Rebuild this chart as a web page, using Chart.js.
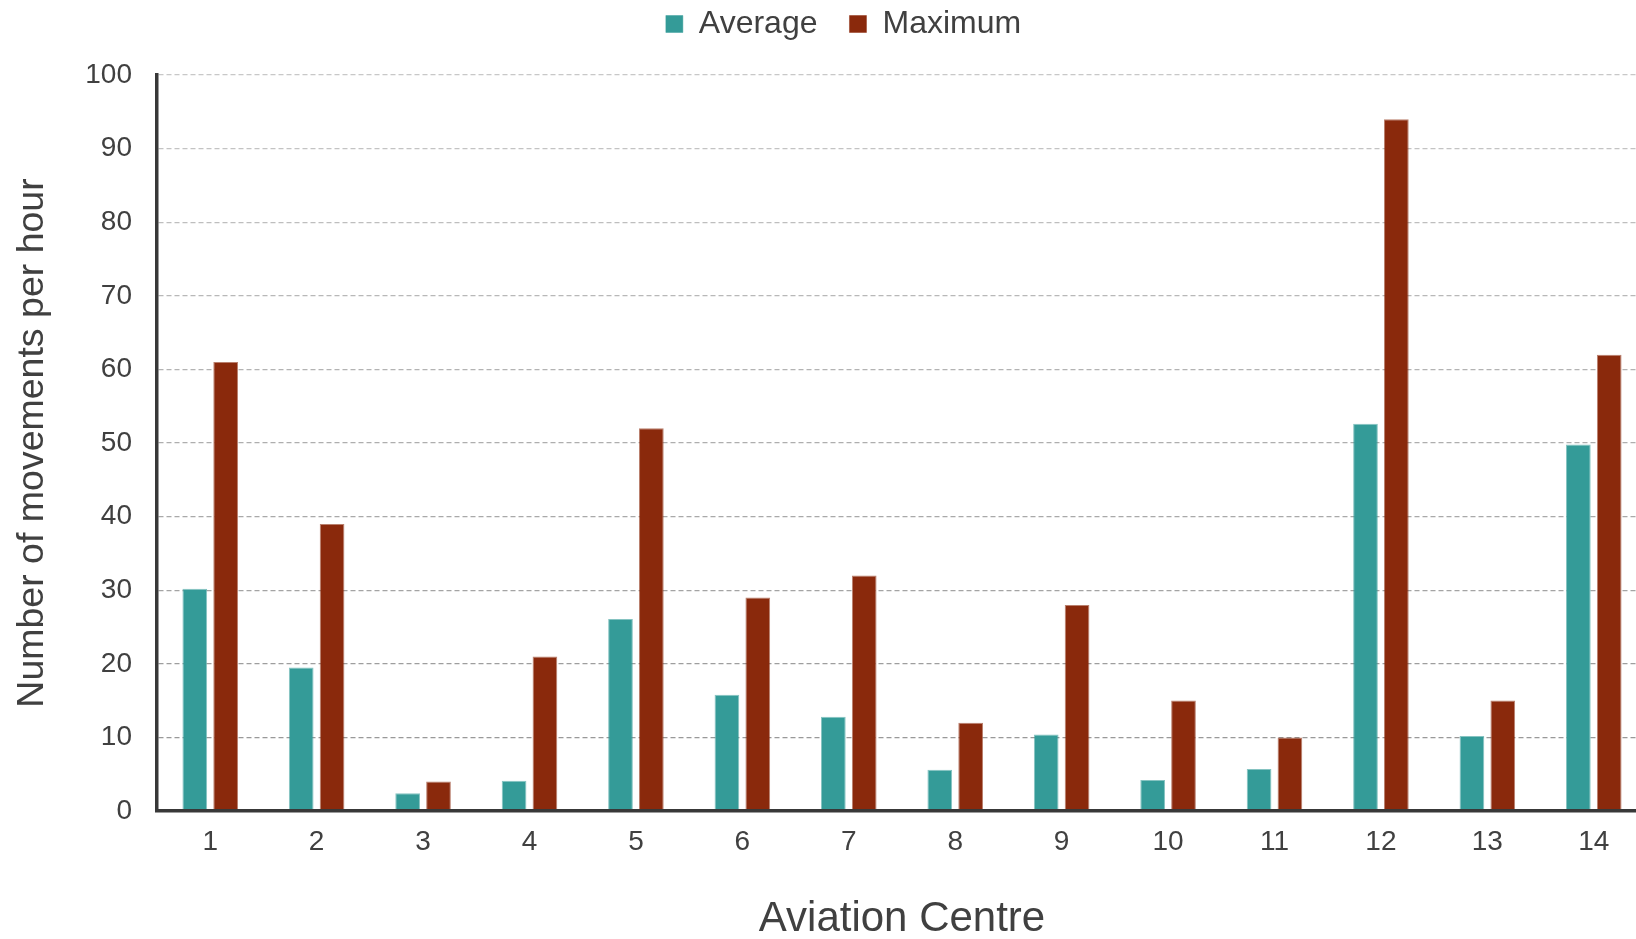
<!DOCTYPE html>
<html>
<head>
<meta charset="utf-8">
<script src="https://cdn.jsdelivr.net/npm/chart.js@4/dist/chart.umd.min.js"></script>
<style>
  html, body { margin: 0; padding: 0; background: #ffffff; overflow: hidden; }
  #wrap { width: 1647px; height: 939px; }
</style>
</head>
<body>
<div id="wrap"><canvas id="movements" width="1647" height="939"></canvas></div>
<script>
// Aviation centres along the x axis
const centres = ['1', '2', '3', '4', '5', '6', '7', '8', '9', '10', '11', '12', '13', '14'];

// Movements per hour for each centre
const averageMovements = [30.2, 19.5, 2.4, 4.1, 26.1, 15.8, 12.8, 5.6, 10.4, 4.2, 5.7, 52.6, 10.2, 49.8];
const maximumMovements = [61, 39, 4, 21, 52, 29, 32, 12, 28, 15, 10, 94, 15, 62];

// Value axis range
const yMin = 0;
const yMax = 100;
const yStep = 10;

const TEXT = '#404040';
const FONT = "'Liberation Sans', Arial, Helvetica, sans-serif";

// Dashed guide lines fade from mid grey near the base to light grey at the top
function gridShade(ctx) {
  const v = ctx.tick ? ctx.tick.value : 0;
  const g = Math.round(148 + (v / yMax) * 52);
  return `rgb(${g},${g},${g})`;
}

// Extra breathing room between the legend row and the plot
const legendGap = {
  id: 'legendGap',
  beforeLayout(chart) {
    const legend = chart.legend;
    if (legend && !legend._gapPatched) {
      const fit = legend.fit;
      legend.fit = function () {
        fit.call(this);
        this.height += 25;
      };
      legend._gapPatched = true;
    }
  }
};

new Chart(document.getElementById('movements'), {
  type: 'bar',
  data: {
    labels: centres,
    datasets: [
      {
        label: 'Average',
        data: averageMovements,
        backgroundColor: '#349B98',
        borderColor: 'rgba(52,155,152,0.6)',
        borderWidth: { top: 1, left: 1, right: 1, bottom: 0 },
        borderSkipped: 'bottom',
        barPercentage: 0.8,
        categoryPercentage: 0.58
      },
      {
        label: 'Maximum',
        data: maximumMovements,
        backgroundColor: '#8A290C',
        borderColor: 'rgba(138,41,12,0.6)',
        borderWidth: { top: 1, left: 1, right: 1, bottom: 0 },
        borderSkipped: 'bottom',
        barPercentage: 0.8,
        categoryPercentage: 0.58
      }
    ]
  },
  plugins: [legendGap],
  options: {
    responsive: false,
    animation: false,
    devicePixelRatio: 1,
    layout: { padding: { left: 40, right: 0, top: -24, bottom: 0 } },
    plugins: {
      legend: {
        position: 'top',
        align: 'center',
        labels: {
          boxWidth: 17,
          boxHeight: 17,
          padding: 32,
          color: TEXT,
          font: { family: FONT, size: 32 }
        }
      },
      tooltip: { enabled: false },
      title: { display: false }
    },
    scales: {
      x: {
        type: 'category',
        offset: true,
        grid: { display: false, drawTicks: false },
        border: { display: true, color: '#383838', width: 3.5, z: 1 },
        ticks: {
          color: TEXT,
          padding: 14,
          maxRotation: 0,
          autoSkip: false,
          font: { family: FONT, size: 28 }
        },
        title: {
          display: true,
          text: 'Aviation Centre',
          color: TEXT,
          font: { family: FONT, size: 42 },
          padding: { top: 0, bottom: -6 }
        },
        afterFit(scale) { scale.height = 128; }
      },
      y: {
        min: yMin,
        max: yMax,
        grid: {
          display: true,
          drawTicks: false,
          color: gridShade,
          lineWidth: 1.3
        },
        border: { display: true, color: '#383838', width: 3.5, dash: [5, 3], z: 1 },
        ticks: {
          stepSize: yStep,
          color: TEXT,
          padding: 25,
          font: { family: FONT, size: 28 }
        },
        title: {
          display: true,
          text: 'Number of movements per hour',
          color: TEXT,
          font: { family: FONT, size: 37.5 },
          padding: { top: -30, bottom: 0 }
        },
        afterFit(scale) { scale.width = 117; }
      }
    }
  }
});
</script>
</body>
</html>
